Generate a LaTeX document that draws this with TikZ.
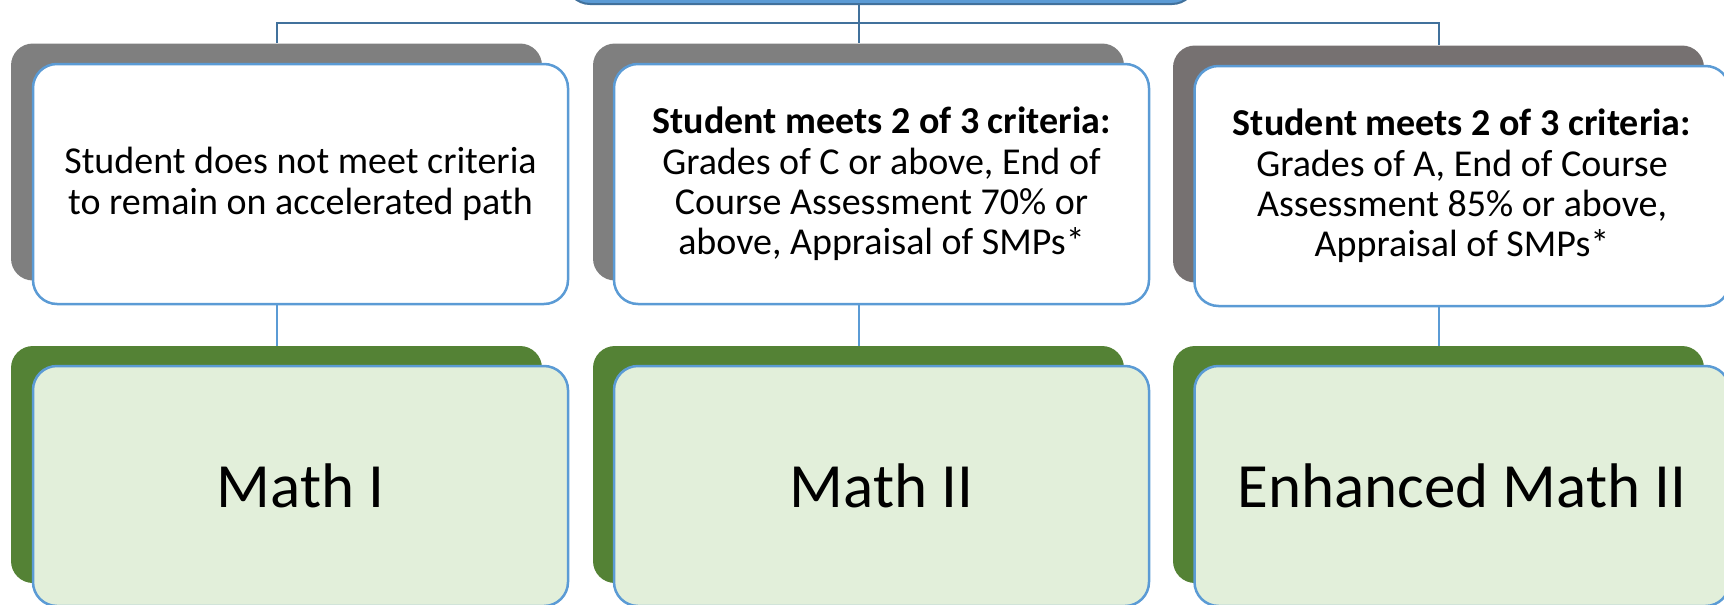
\documentclass[tikz,border=0pt]{standalone}
\usepackage{fontspec}
\setmainfont{Carlito}
\definecolor{rootblue}{HTML}{5B9BD5}
\definecolor{edgeblue}{HTML}{5B9BD5}
\definecolor{busblue}{HTML}{41719C}
\definecolor{shadegray}{HTML}{7F7F7F}
\definecolor{warmgray}{HTML}{767171}
\definecolor{leafgreen}{HTML}{548235}
\definecolor{palegreen}{HTML}{E2EFDA}
\begin{document}
\begin{tikzpicture}[x=0.5pt,y=-0.5pt,
	shadow/.style={rounded corners=11pt, minimum width=265.5pt, minimum height=118.5pt, inner sep=0pt},
	card/.style={draw=edgeblue, line width=1.25pt, rounded corners=12pt, minimum width=267.5pt, minimum height=120pt, inner sep=0pt, align=center},
	crit/.style={card, fill=white, font=\fontsize{19}{20.2}\selectfont},
	course/.style={card, fill=palegreen, font=\fontsize{31.5}{37}\selectfont},
	link/.style={line width=1pt}]
			\clip (0,0) rectangle (1724,605);
			\node[fill=rootblue, draw=busblue, line width=1pt, rounded corners=12pt, minimum width=315pt, minimum height=30pt] (root) at (881,-26) {};

			\node[shadow, fill=shadegray] (gray1) at (276.5,162) {};
			\node[crit] (box1) at (300.5,184) {Student does not meet criteria\\to remain on accelerated path};
			\node[shadow, fill=shadegray] (gray2) at (858.5,162) {};
			\node[crit] (box2) at (881.5,184) {\textbf{Student meets 2 of 3 criteria:}\\Grades of C or above, End of\\Course Assessment 70\% or\\above, Appraisal of SMPs*};
			\node[shadow, fill=warmgray] (gray3) at (1438.5,164) {};
			\node[crit] (box3) at (1462,186) {\textbf{Student meets 2 of 3 criteria:}\\Grades of A, End of Course\\Assessment 85\% or above,\\Appraisal of SMPs*};

			\node[shadow, fill=leafgreen] (green1) at (276.5,464.5) {};
			\node[course] (math1) at (300.5,486) {Math I};
			\node[shadow, fill=leafgreen] (green2) at (858.5,464.5) {};
			\node[course] (math2) at (881.5,486) {Math II};
			\node[shadow, fill=leafgreen] (green3) at (1438.5,464.5) {};
			\node[course] (math3) at (1462,486) {Enhanced Math II};

			\coordinate (bus) at (858.5,23);
			\draw[link, busblue] (root.south -| gray2.north) -- (gray2.north);
			\draw[link, busblue] (gray1.north) -- (gray1.north |- bus) -- (gray3.north |- bus) -- (gray3.north);

			\draw[link, edgeblue] (gray1.north |- box1.south) -- (green1.north);
			\draw[link, edgeblue] (gray2.north |- box2.south) -- (green2.north);
			\draw[link, edgeblue] (gray3.north |- box3.south) -- (green3.north);
		\end{tikzpicture}
\end{document}
